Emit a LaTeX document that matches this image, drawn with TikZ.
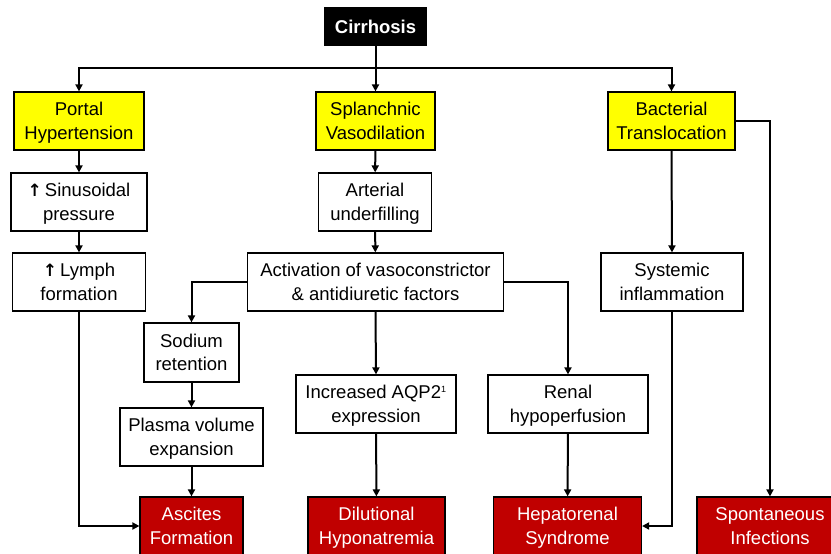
\documentclass[tikz,border=0pt]{standalone}
\usepackage{fontspec}
\setmainfont{Liberation Sans}
\newfontfamily\arrowfont{DejaVu Sans}
\usepackage{tikz}
\usetikzlibrary{arrows.meta}
\usetikzlibrary{positioning}

\definecolor{boxyellow}{HTML}{FFFF00}
\definecolor{boxred}{HTML}{C00000}
\newcommand{\upar}{{\arrowfont\bfseries\fontsize{17}{17}\selectfont\char"2191}}

\begin{document}
\begin{tikzpicture}[x=1pt,y=-1pt,
    font=\fontsize{18.5}{23.5}\selectfont,
    box/.style={draw=black, line width=1.2pt, fill=white, align=center,
                inner sep=0pt, minimum height=58pt, text depth=0pt},
    ybox/.style={box, fill=boxyellow},
    rbox/.style={box, fill=boxred, text=white},
    topbox/.style={box, fill=black, text=white, font=\fontsize{18.5}{23.5}\selectfont\bfseries,
                   minimum height=37pt},
    arr/.style={line width=2pt, -{Triangle[length=7pt,width=7pt]}},
    lin/.style={line width=2pt}]
  \useasboundingbox (0,0) rectangle (831,554);

  % top
  \node[topbox, minimum width=101pt] (cirr) at (375.5,26.5) {Cirrhosis};
  \coordinate (split) at (375.5,68);

  % yellow row
  \node[ybox, minimum width=130pt] (portal) at (79,121)    {Portal\\Hypertension};
  \node[ybox, minimum width=119pt] (splan)  at (375.5,121) {Splanchnic\\Vasodilation};
  \node[ybox, minimum width=127pt] (bact)   at (671.5,121) {Bacterial\\Translocation};

  % middle boxes
  \node[box, minimum width=136pt] (sinus) at (79,202)    {\upar\,Sinusoidal\\pressure};
  \node[box, minimum width=113pt] (arter) at (375,202)   {Arterial\\underfilling};
  \node[box, minimum width=133pt] (lymph) at (79,282)    {\upar\,Lymph\\formation};
  \node[box, minimum width=256pt] (activ) at (375.5,282) {Activation of vasoconstrictor\\\&\ antidiuretic factors};
  \node[box, minimum width=142pt] (syst)  at (672,282)   {Systemic\\inflammation};
  \node[box, minimum width=95pt, minimum height=59pt] (sodium) at (191.5,352.5) {Sodium\\retention};
  \node[box, minimum width=160pt] (aqp)   at (376,404)   {Increased AQP2\textsuperscript{\fontsize{9}{9}\selectfont 1}\\expression};
  \node[box, minimum width=160pt] (renal) at (568,404)   {Renal\\hypoperfusion};
  \node[box, minimum width=143pt] (plasma) at (191.5,437) {Plasma volume\\expansion};

  % outcomes
  \node[rbox, minimum width=103pt] (ascit)  at (191.5,526) {Ascites\\Formation};
  \node[rbox, minimum width=137pt] (dilut)  at (376.5,526) {Dilutional\\Hyponatremia};
  \node[rbox, minimum width=148pt] (hepat)  at (567.5,526) {Hepatorenal\\Syndrome};
  \node[rbox, minimum width=146pt] (spont)  at (770,526)   {Spontaneous\\Infections};

  % connectors
  \draw[arr] (cirr.south) -- (splan.north);
  \draw[arr] (split) -| (portal.north);
  \draw[arr] (split) -| (bact.north);

  \draw[arr] (portal) -- (sinus);
  \draw[arr] (sinus) -- (lymph);
  \draw[arr] (lymph.south) |- (ascit.west);

  \draw[arr] (splan) -- (arter);
  \draw[arr] (arter) -- (activ);
  \draw[arr] (activ.west) -| (sodium.north);
  \draw[arr] (sodium) -- (plasma);
  \draw[arr] (plasma) -- (ascit);
  \draw[arr] (activ.south) -- (aqp.north);
  \draw[arr] (aqp) -- (dilut);
  \draw[arr] (activ.east) -| (renal.north);
  \draw[arr] (renal) -- (hepat);

  \draw[arr] (bact.south) -- (syst.north);
  \draw[arr] (syst.south) |- (hepat.east);
  \draw[arr] (bact.east) -| (spont.north);
\end{tikzpicture}
\end{document}
